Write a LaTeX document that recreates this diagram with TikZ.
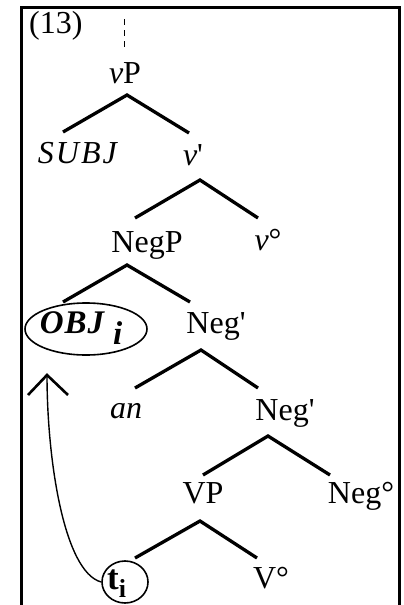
\documentclass[tikz,border=0pt]{standalone}
\usepackage{fontspec}
\setmainfont{Liberation Serif}
\usetikzlibrary{shapes.geometric,calc}
\newcommand\tfont{\fontsize{32}{38}\selectfont}
\newcommand\prm{\XeTeXglyph\XeTeXcharglyph"27\relax}
\tikzset{
  lbl/.style={anchor=base, inner sep=0pt, font=\tfont},
  branch/.style={line width=3.3pt, line join=miter, line cap=butt},
  frame/.style={line width=3pt, line join=miter},
  ring/.style={draw, ellipse, line width=1.6pt, inner sep=0pt},
  movearc/.style={line width=1.4pt},
  barb/.style={line width=2.6pt, line join=miter},
}
\begin{document}
\begin{tikzpicture}[x=1pt,y=-1pt]
\useasboundingbox (0,0) rectangle (404,605);
% frame
\coordinate (fbl) at (21,606);
\coordinate (ftl) at (21,7);
\coordinate (ftr) at (399,7);
\coordinate (fbr) at (399,606);
\draw[frame] (fbl) -- (ftl) -- (ftr) -- (fbr);
% labels
\node[lbl, anchor=base west] (ex) at (29,33) {(13)};
\node[lbl] (vP) at (125,83) {\textit{v}P};
\coordinate (dtop) at (124,19);
\coordinate (dbot) at (124,49);
\draw[line width=1pt, dash pattern=on 6pt off 5pt] (dtop) -- (dbot);
\node[lbl] (subj) at (78,163) {\textit{S\kern2pt U\kern2pt B\kern2pt J}};
\node[lbl] (vbar) at (193,165) {\textit{v}\prm};
\node[lbl] (negP) at (147,252) {NegP};
\node[lbl] (vdeg) at (268,250) {\textit{v}°};
\node[lbl] (obj) at (81,333) {\fontsize{33}{38}\selectfont\textbf{\textit{O\kern1pt B\kern1pt J}}\kern8pt\raisebox{-11pt}{\textbf{\textit{i}}}};
\node[ring, minimum width=122pt, minimum height=52pt] (objring) at (86,329) {};
\node[lbl] (negbarA) at (216,333) {Neg\prm};
\node[lbl] (an) at (126,418) {\textit{an}};
\node[lbl] (negbarB) at (285,420) {Neg\prm};
\node[lbl] (VP) at (203,503) {VP};
\node[lbl] (negdeg) at (361,503) {Neg°};
\node[lbl] (Vdeg) at (271,588) {V°};
\node[ring, minimum width=46pt, minimum height=42pt] (tring) at (125,582) {};
\node[lbl, anchor=base west] (t) at (107,589) {\fontsize{35}{40}\selectfont\textbf{t}\raisebox{-8pt}{\fontsize{26}{30}\selectfont\textbf{i}}};
% branches
\coordinate (a1) at (127,95);  \coordinate (l1) at (63,132);  \coordinate (r1) at (189,133);
\coordinate (a2) at (200,180); \coordinate (l2) at (135,218); \coordinate (r2) at (258,218);
\coordinate (a3) at (127,265); \coordinate (l3) at (63,302);  \coordinate (r3) at (190,302);
\coordinate (a4) at (201,350); \coordinate (l4) at (135,388); \coordinate (r4) at (258,388);
\coordinate (a5) at (268,436); \coordinate (l5) at (203,475); \coordinate (r5) at (330,475);
\coordinate (a6) at (200,521); \coordinate (l6) at (135,558); \coordinate (r6) at (257,558);
\draw[branch] (l1) -- (a1) -- (r1);
\draw[branch] (l2) -- (a2) -- (r2);
\draw[branch] (l3) -- (a3) -- (r3);
\draw[branch] (l4) -- (a4) -- (r4);
\draw[branch] (l5) -- (a5) -- (r5);
\draw[branch] (l6) -- (a6) -- (r6);
% movement arrow
\coordinate (tip) at (47,375);
\draw[movearc] (tring.west) .. controls (64,572) and (47,460) .. (tip);
\draw[barb] ($(tip)+(-19,20)$) -- (tip) -- ($(tip)+(21,20)$);
\end{tikzpicture}
\end{document}
